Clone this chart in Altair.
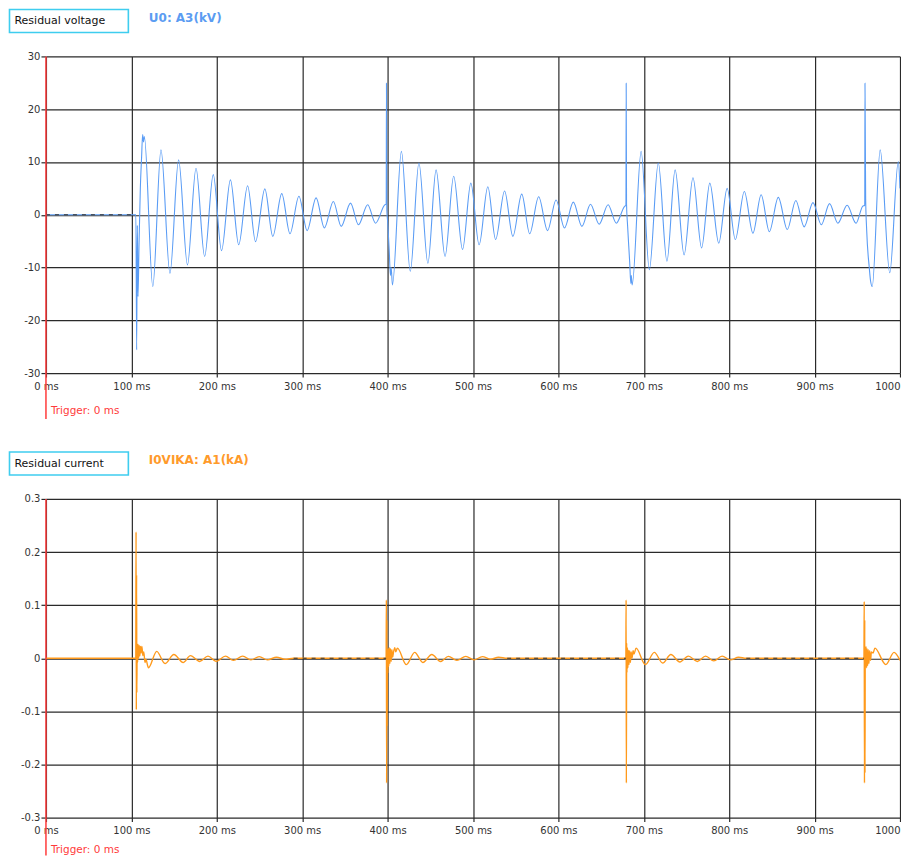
import altair as alt
import pandas as pd

# ---------------- data ----------------
volt_t = [0, 105.3,
          106.2, 107.0, 107.8, 109.0, 110.5, 112.0, 113.2, 114.2, 115.2,
          125.1, 134.7, 145.2, 155.3, 165.7, 175.7, 185.8, 195.9, 205.6, 216.0,
          225.7, 236.1, 245.4, 256.3, 265.6, 276.1, 285.7, 296.2, 305.8, 316.3,
          326.0, 336.5, 345.7, 356.6, 365.9, 376.7, 385.9, 396.9,
          398.4, 398.7, 399.1, 400.2, 402.0, 403.3, 404.2, 405.7,
          416.2, 426.6, 436.7, 447.2, 456.8, 467.3, 477.4, 487.8, 497.5, 507.2,
          517.4, 526.5, 537.0, 546.7, 557.1, 566.4, 576.9, 587.3, 597.3, 607.1,
          617.5, 627.5, 637.6, 647.7, 658.2, 667.8, 677.5,
          679.1, 679.4, 679.8, 681.0, 683.5, 684.8, 685.4, 686.4,
          696.9, 706.5, 717.0, 727.1, 736.7, 747.2, 757.6, 767.7, 777.3, 787.8,
          797.6, 807.2, 817.7, 827.8, 837.4, 847.0, 857.5, 868.0, 878.0, 887.8,
          898.1, 907.9, 917.5, 927.2, 938.1, 948.5, 956.2,
          958.7, 959.0, 959.4, 959.8, 961.0, 964.0, 965.5, 967.5,
          976.8, 988.0, 998.0, 1000.0]
volt_v = [0, 0,
          -25.6, -2.0, -15.5, -5.4, 5.0, 11.0, 15.2, 13.8, 14.8,
          -13.6, 12.3, -11.1, 10.4, -9.5, 8.8, -7.9, 7.6, -6.8, 6.6,
          -5.7, 5.5, -5.1, 4.9, -4.1, 4.0, -3.6, 3.5, -3.0, 3.2,
          -2.5, 2.5, -2.2, 2.2, -1.9, 1.9, -1.6, 1.9,
          2.0, 24.9, 1.0, -1.5, -7.0, -11.5, -10.0, -13.3,
          12.0, -10.7, 9.8, -9.2, 8.5, -7.9, 7.3, -6.6, 6.0, -5.7,
          5.3, -4.7, 4.5, -4.1, 3.9, -3.6, 3.4, -3.0, 2.8, -2.5,
          2.4, -2.2, 2.0, -1.8, 1.9, -1.6, 1.6,
          1.8, 24.9, 2.0, -2.0, -9.0, -13.0, -11.5, -13.3,
          12.0, -10.4, 9.8, -8.8, 8.5, -7.6, 7.0, -6.3, 6.0, -5.4,
          5.0, -4.7, 4.4, -3.5, 3.8, -3.2, 3.3, -2.8, 2.7, -2.3,
          2.3, -1.9, 2.1, -1.6, 1.8, -1.6, 1.6,
          1.8, 24.9, 14.0, 3.0, -3.0, -10.0, -12.5, -13.6,
          12.3, -11.0, 10.1, 5.0]

curr_t = [0, 105.2,
          105.5, 105.8, 106.1, 106.4, 106.8, 107.3, 107.9, 108.5, 109.2, 109.9,
          110.6, 111.4, 112.3, 113.5, 114.5, 116.0, 117.0,
          120.0, 129.7, 139.4, 149.8, 160.6, 169.2, 180.0, 189.7, 199.4, 210.2,
          219.5, 230.4, 240.0, 249.7, 259.4, 270.0, 280.0, 290.0, 398.3,
          398.6, 398.9, 399.2, 399.5, 399.9, 400.3, 400.8, 401.4, 402.0, 402.7,
          403.4, 404.2, 405.0, 406.0, 407.0, 408.5, 409.5,
          411.5, 422.0, 431.7, 441.3, 451.8, 461.9, 471.2, 481.2, 491.6, 501.3,
          511.0, 520.6, 530.0, 540.0, 679.0,
          679.3, 679.6, 679.9, 680.3, 680.8, 681.4, 682.0, 682.7, 683.5, 684.3,
          685.2, 686.2, 687.5, 688.5,
          691.0, 701.9, 712.3, 722.1, 731.7, 742.2, 752.2, 762.7, 772.4, 782.0,
          791.7, 801.4, 811.0, 820.0, 957.8,
          958.1, 958.4, 958.7, 959.0, 959.3, 959.7, 960.2, 960.8, 961.4, 962.1,
          962.8, 963.6, 964.5, 965.5, 966.5, 968.5,
          970.6, 983.4, 993.0, 1000.0]
curr_v = [0, 0,
          0.238, -0.097, 0.157, -0.065, 0.028, -0.008, 0.026, 0.000, 0.024, 0.004,
          0.022, 0.010, 0.022, 0.005, 0.012, -0.008, -0.002,
          -0.018, 0.013, -0.010, 0.007, -0.008, 0.005, -0.006, 0.004, -0.006, 0.004,
          -0.004, 0.004, -0.003, 0.003, -0.003, 0.002, -0.002, 0.0, 0.0,
          0.110, -0.235, 0.072, -0.128, 0.012, -0.028, 0.018, -0.015, 0.020, -0.010,
          0.018, -0.006, 0.016, 0.002, 0.012, 0.020, 0.012,
          0.019, -0.012, 0.011, -0.008, 0.007, -0.006, 0.0035, -0.004, 0.0035, -0.003,
          0.003, -0.002, 0.002, 0.0, 0.0,
          0.110, -0.235, 0.029, -0.027, 0.020, -0.018, 0.015, -0.012, 0.014, -0.008,
          0.012, 0.000, 0.014, 0.008,
          0.019, -0.012, 0.011, -0.009, 0.007, -0.007, 0.004, -0.006, 0.004, -0.005,
          0.004, -0.003, 0.002, 0.0, 0.0,
          0.107, -0.235, 0.072, -0.216, 0.003, -0.015, 0.022, -0.018, 0.018, -0.014,
          0.016, -0.010, 0.014, -0.004, 0.012, 0.010,
          0.019, -0.012, 0.011, -0.004]

# stretches where the trace sits flat on the zero grid line (drawn broken, as in the recorder)
volt_flat_start = [0]
volt_flat_end = [105.3]
curr_flat_start = [290, 540, 820]
curr_flat_end = [398.3, 679, 957.8]

x_ticks = [0, 100, 200, 300, 400, 500, 600, 700, 800, 900, 1000]
volt_ticks = [30, 20, 10, 0, -10, -20, -30]
curr_ticks = [0.3, 0.2, 0.1, 0, -0.1, -0.2, -0.3]

box_titles = ["Residual voltage", "Residual current"]
series_titles = ["U0: A3(kV)", "I0VIKA: A1(kA)"]
trigger_text = "Trigger: 0 ms"

W = 855
FONT = "DejaVu Sans"
RED = "#ff3b3b"
BOX = "#3fcdef"


def panel(t, v, fs, fe, ticks, dom, line_color, line_width, label_color,
          box_title, series_title, H, rule_ext, txt_off):
    df = pd.DataFrame({"t": t, "v": v, "i": range(len(t))})
    flat = pd.DataFrame({"s": fs, "e": fe, "z": [0] * len(fs)})
    one = pd.DataFrame({"a": [0]})
    x = alt.X("t:Q", scale=alt.Scale(domain=[0, 1000], nice=False, zero=False),
              axis=alt.Axis(values=x_ticks,
                            labelExpr="datum.value == 1000 ? '1000' : datum.value + ' ms'",
                            labelAlign={"condition": {"test": "datum.value == 1000", "value": "right"},
                                        "value": "center"},
                            title=None, grid=True, domain=False, tickSize=4, labelPadding=4,
                            labelFlush=False, labelOverlap=False))
    y = alt.Y("v:Q", scale=alt.Scale(domain=dom, nice=False, zero=False),
              axis=alt.Axis(values=ticks, labelExpr="'' + datum.value", title=None,
                            grid=True, domain=False, tickSize=5, labelPadding=1,
                            labelFlush=False, labelOverlap=False))
    line = alt.Chart(df).mark_line(color=line_color, strokeWidth=line_width, interpolate="monotone",
                                   clip=True).encode(x=x, y=y, order=alt.Order("i:Q"))
    flat_l = alt.Chart(flat).mark_rule(color="#333", strokeWidth=1.2, strokeDash=[4, 5]).encode(
        x="s:Q", x2="e:Q", y="z:Q")
    trig = alt.Chart(one).mark_rule(color=RED, strokeWidth=1.5).encode(
        x=alt.datum(0), y=alt.value(0), y2=alt.value(H + rule_ext))
    trig_txt = alt.Chart(one).mark_text(align="left", baseline="middle", color=RED,
                                        fontSize=10.5, font=FONT, dx=5).encode(
        x=alt.datum(0), y=alt.value(H + txt_off), text=alt.value(trigger_text))
    box = alt.Chart(one).mark_rect(fill="white", stroke=BOX, strokeWidth=1.6).encode(
        x=alt.value(-36.5), x2=alt.value(82.5), y=alt.value(-47), y2=alt.value(-24))
    box_txt = alt.Chart(one).mark_text(align="left", baseline="middle", color="#111",
                                       fontSize=11, font=FONT).encode(
        x=alt.value(-31.5), y=alt.value(-35.2), text=alt.value(box_title))
    ser_txt = alt.Chart(one).mark_text(align="left", baseline="middle", color=label_color,
                                       fontSize=12, fontWeight="bold", font=FONT).encode(
        x=alt.value(103), y=alt.value(-38.5), text=alt.value(series_title))
    return alt.layer(line, flat_l, trig, trig_txt, box, box_txt, ser_txt).properties(width=W, height=H)


top = panel(volt_t, volt_v, volt_flat_start, volt_flat_end, volt_ticks, [-30, 30],
            "#5a9cf5", 1.1, "#5b9cf2", box_titles[0], series_titles[0], 317, 46, 38)
bottom = panel(curr_t, curr_v, curr_flat_start, curr_flat_end, curr_ticks, [-0.3, 0.3],
               "#ff9a1c", 1.4, "#ff9a2a", box_titles[1], series_titles[1], 319, 38, 32)

chart = alt.vconcat(top, bottom, spacing=126, bounds="flush").properties(
    padding={"left": 0, "top": 0, "right": 0, "bottom": 0}
).configure_view(stroke=None).configure_axis(
    labelFont=FONT, labelFontSize=10, labelColor="#333",
    gridColor="#2a2a2a", gridWidth=1.2, gridOpacity=1, tickColor="#2a2a2a", tickWidth=1.2
)

chart.save("out.html", embed_options={"renderer": "svg", "actions": False})
